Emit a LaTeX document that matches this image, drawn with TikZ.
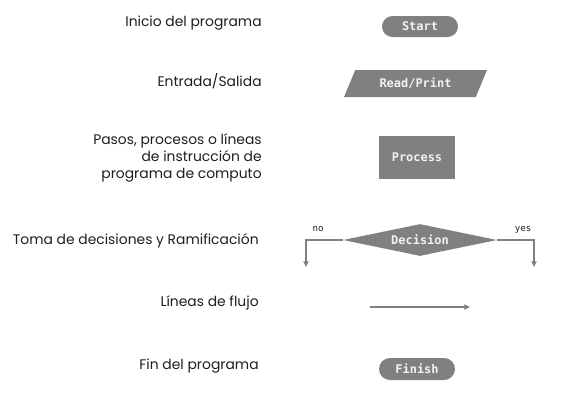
\documentclass[tikz,border=0pt]{standalone}
\usepackage{fontspec}
\setmainfont{Poppins}
\newfontfamily\boxfont{DejaVu Sans Mono}
\usetikzlibrary{shapes.geometric,shapes.misc,arrows.meta,positioning}
\definecolor{shapeGray}{RGB}{128,128,128}
\definecolor{shapeText}{RGB}{242,242,242}
\definecolor{labelInk}{RGB}{30,30,30}
\tikzset{
  symbol/.style={fill=shapeGray, text=shapeText, inner sep=0pt,
    font=\boxfont\bfseries\fontsize{6.8}{8}\selectfont},
  legend/.style={anchor=east, align=right, text=labelInk, inner sep=0pt,
    font=\fontsize{7.9}{9.6}\selectfont},
  flowline/.style={draw=shapeGray, line width=0.6pt,
    -{Triangle[length=3.2pt,width=3pt]}},
  branch/.style={font=\boxfont\fontsize{5.2}{6}\selectfont, text=labelInk, inner sep=0pt}
}
\begin{document}
\begin{tikzpicture}[x=0.02cm,y=-0.02cm]
  \useasboundingbox (0,0) rectangle (570,403);
  % Start terminal
  \node[symbol, rounded rectangle, minimum width=1.52cm, minimum height=0.42cm]
    (start) at (420,26.5) {Start};
  \node[legend] (startlbl) at (262,23) {Inicio del programa};
  % Input/output
  \node[symbol, trapezium, trapezium left angle=44, trapezium right angle=136,
        trapezium stretches body, minimum width=2.86cm, minimum height=0.54cm]
    (io) at (415.5,83.5) {Read/Print};
  \node[legend] (iolbl) at (262,81) {Entrada/Salida};
  % Process box
  \node[symbol, rectangle, minimum width=1.52cm, minimum height=0.86cm]
    (proc) at (417,157.5) {Process};
  \node[legend] (proclbl) at (262,158)
    {Pasos, procesos o líneas\\de instrucción de\\programa de computo};
  % Decision
  \node[symbol, diamond, aspect=4.8, minimum width=3.08cm, minimum height=0.64cm]
    (dec) at (420,240) {Decision};
  \node[legend] (declbl) at (259,241) {Toma de decisiones y Ramificación};
  \coordinate (noend) at (306,267);
  \coordinate (yesend) at (534,267);
  \draw[flowline] (dec.west) -| (noend);
  \draw[flowline] (dec.east) -| (yesend);
  \node[branch] (nolbl) at (318,229) {no};
  \node[branch] (yeslbl) at (523,230) {yes};
  % Flow line
  \coordinate (flowstart) at (370,307);
  \coordinate (flowend) at (470,307);
  \draw[flowline] (flowstart) -- (flowend);
  \node[legend] (flowlbl) at (259,303) {Líneas de flujo};
  % Finish terminal
  \node[symbol, rounded rectangle, minimum width=1.52cm, minimum height=0.44cm]
    (finish) at (417,369) {Finish};
  \node[legend] (finishlbl) at (259,366) {Fin del programa};
\end{tikzpicture}
\end{document}
